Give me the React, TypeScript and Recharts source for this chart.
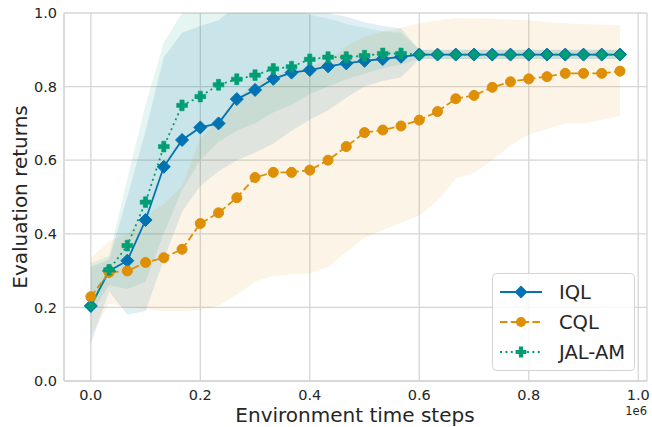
import React from 'react';
import { ComposedChart, Line, Area, XAxis, YAxis, CartesianGrid, Label } from 'recharts';

const steps = [0, 33333, 66667, 100000, 133333, 166667, 200000, 233333, 266667, 300000, 333333, 366667, 400000, 433333, 466667, 500000, 533333, 566667, 600000, 633333, 666667, 700000, 733333, 766667, 800000, 833333, 866667, 900000, 933333, 966667];

const iqlMean = [0.204, 0.299, 0.327, 0.4375, 0.582, 0.655, 0.689, 0.7, 0.766, 0.791, 0.821, 0.838, 0.845, 0.855, 0.863, 0.87, 0.875, 0.881, 0.887, 0.887, 0.887, 0.887, 0.887, 0.887, 0.887, 0.887, 0.887, 0.887, 0.887, 0.887];
const iqlLow = [0.1, 0.243, 0.18, 0.19, 0.33, 0.46, 0.53, 0.57, 0.6, 0.62, 0.645, 0.68, 0.71, 0.735, 0.77, 0.8, 0.815, 0.825, 0.875, 0.875, 0.875, 0.875, 0.875, 0.875, 0.875, 0.875, 0.875, 0.875, 0.875, 0.875];
const iqlHigh = [0.31, 0.33, 0.5, 0.68, 0.88, 0.946, 0.965, 0.98, 1.02, 1.04, 1.05, 1.04, 1.02, 1.0, 0.99, 0.975, 0.965, 0.958, 0.9, 0.9, 0.9, 0.9, 0.9, 0.9, 0.9, 0.9, 0.9, 0.9, 0.9, 0.9];

const cqlMean = [0.229, 0.295, 0.299, 0.322, 0.335, 0.358, 0.428, 0.457, 0.498, 0.553, 0.567, 0.567, 0.573, 0.6, 0.637, 0.675, 0.682, 0.693, 0.709, 0.732, 0.767, 0.776, 0.798, 0.813, 0.821, 0.827, 0.836, 0.836, 0.836, 0.842];
const cqlLow = [0.125, 0.21, 0.2, 0.195, 0.19, 0.19, 0.193, 0.205, 0.235, 0.27, 0.285, 0.29, 0.293, 0.31, 0.35, 0.39, 0.41, 0.43, 0.45, 0.49, 0.55, 0.565, 0.6, 0.64, 0.67, 0.685, 0.7, 0.7, 0.71, 0.72];
const cqlHigh = [0.334, 0.38, 0.4, 0.45, 0.48, 0.53, 0.66, 0.71, 0.77, 0.81, 0.83, 0.845, 0.855, 0.87, 0.91, 0.936, 0.95, 0.96, 0.972, 0.98, 0.986, 0.986, 0.985, 0.982, 0.98, 0.975, 0.972, 0.97, 0.968, 0.967];

const jalMean = [0.204, 0.302, 0.368, 0.486, 0.637, 0.749, 0.773, 0.805, 0.82, 0.831, 0.848, 0.854, 0.874, 0.88, 0.88, 0.884, 0.89, 0.89, 0.887, 0.887, 0.887, 0.887, 0.887, 0.887, 0.887, 0.887, 0.887, 0.887, 0.887, 0.887];
const jalLow = [0.18, 0.26, 0.25, 0.27, 0.4, 0.52, 0.6, 0.65, 0.68, 0.7, 0.73, 0.75, 0.78, 0.8, 0.82, 0.835, 0.85, 0.86, 0.875, 0.875, 0.875, 0.875, 0.875, 0.875, 0.875, 0.875, 0.875, 0.875, 0.875, 0.875];
const jalHigh = [0.32, 0.34, 0.55, 0.75, 0.92, 1.0, 1.05, 1.08, 1.08, 1.06, 1.04, 1.02, 0.995, 0.985, 0.97, 0.96, 0.95, 0.946, 0.9, 0.9, 0.9, 0.9, 0.9, 0.9, 0.9, 0.9, 0.9, 0.9, 0.9, 0.9];

const xTicks = [0, 200000, 400000, 600000, 800000, 1000000];
const yTicks = [0, 0.2, 0.4, 0.6, 0.8, 1.0];
const seriesNames = ['IQL', 'CQL', 'JAL-AM'];

const BLUE = '#0173b2';
const ORANGE = '#de8f05';
const GREEN = '#029e73';
const TEXT = '#262626';
const GRID = '#d6d6d6';
const FONT = 'DejaVu Sans, sans-serif';

const data = steps.map((s, i) => ({
  step: s,
  iql: iqlMean[i],
  cql: cqlMean[i],
  jal: jalMean[i],
  iqlBand: [iqlLow[i], iqlHigh[i]],
  cqlBand: [cqlLow[i], cqlHigh[i]],
  jalBand: [jalLow[i], jalHigh[i]],
}));

const diamondPath = (cx: number, cy: number, r: number) =>
  `M${cx},${cy - r}L${cx + r},${cy}L${cx},${cy + r}L${cx - r},${cy}Z`;

const plusPath = (cx: number, cy: number, a: number, w: number) =>
  `M${cx - w},${cy - a}H${cx + w}V${cy - w}H${cx + a}V${cy + w}H${cx + w}V${cy + a}H${cx - w}V${cy + w}H${cx - a}V${cy - w}H${cx - w}Z`;

const IqlDot = (p: any) => (
  <path key={`iql-${p.index}`} d={diamondPath(p.cx, p.cy, 6.5)} fill={BLUE} stroke={BLUE} strokeWidth={1} />
);
const CqlDot = (p: any) => (
  <circle key={`cql-${p.index}`} cx={p.cx} cy={p.cy} r={5} fill={ORANGE} stroke={ORANGE} strokeWidth={1} />
);
const JalDot = (p: any) => {
  if (p.index === 0 || p.index >= 18) {
    return <path key={`jal-${p.index}`} d={diamondPath(p.cx, p.cy, 5.3)} fill={GREEN} stroke="none" />;
  }
  return <path key={`jal-${p.index}`} d={plusPath(p.cx, p.cy, 5.4, 2.1)} fill={GREEN} stroke={GREEN} strokeWidth={0.6} />;
};

const Legendbox = () => {
  const rows = [
    { name: seriesNames[0], color: BLUE, dash: undefined as string | undefined, kind: 'd' },
    { name: seriesNames[1], color: ORANGE, dash: '7.5 3.3', kind: 'o' },
    { name: seriesNames[2], color: GREEN, dash: '2 3.4', kind: 'p' },
  ];
  return (
    <svg width={144} height={99} style={{ position: 'absolute', left: 492, top: 273 }}>
      <rect x={0.5} y={0.5} width={142} height={97} rx={4} fill="#ffffff" fillOpacity={0.8} stroke="#d4d4d4" strokeWidth={1} />
      {rows.map((r, i) => {
        const cy = 19 + i * 30;
        return (
          <g key={r.name}>
            <line x1={8} x2={50} y1={cy} y2={cy} stroke={r.color} strokeWidth={1.8} strokeDasharray={r.dash} />
            {r.kind === 'd' && <path d={diamondPath(29, cy, 6.5)} fill={r.color} />}
            {r.kind === 'o' && <circle cx={29} cy={cy} r={5} fill={r.color} />}
            {r.kind === 'p' && <path d={plusPath(29, cy, 5.4, 2.1)} fill={r.color} />}
            <text x={67} y={cy} dy="0.36em" fontSize={19.5} fontFamily={FONT} fill={TEXT}>{r.name}</text>
          </g>
        );
      })}
    </svg>
  );
};

export default function App() {
  return (
    <div style={{ position: 'absolute', left: 0, top: 0, width: 652, height: 427, background: '#fff' }}>
      <style>{'body{margin:0}'}</style>
      <ComposedChart width={652} height={427} data={data} margin={{ top: 13, right: 5, left: 0, bottom: 0 }}>
        <CartesianGrid stroke={GRID} strokeWidth={1.3} />
        <XAxis
          type="number"
          dataKey="step"
          domain={[-49000, 1016000]}
          ticks={xTicks}
          allowDataOverflow
          height={46}
          tickLine={false}
          tickSize={7}
          tickMargin={2}
          axisLine={{ stroke: GRID, strokeWidth: 1.3 }}
          tick={{ fill: TEXT, fontSize: 14.5, fontFamily: FONT }}
          tickFormatter={(v: number) => (v / 1e6).toFixed(1)}
        >
          <Label
            content={() => (
              <g>
                <text x={355} y={422} textAnchor="middle" fontSize={20} fontFamily={FONT} fill={TEXT}>Environment time steps</text>
                <text x={647} y={415} textAnchor="end" fontSize={11.5} fontFamily={FONT} fill={TEXT}>1e6</text>
              </g>
            )}
          />
        </XAxis>
        <YAxis
          type="number"
          domain={[0, 1]}
          ticks={yTicks}
          allowDataOverflow
          width={64}
          tickLine={false}
          tickSize={5}
          tickMargin={2}
          axisLine={{ stroke: GRID, strokeWidth: 1.3 }}
          tick={{ fill: TEXT, fontSize: 14.5, fontFamily: FONT }}
          tickFormatter={(v: number) => v.toFixed(1)}
        >
          <Label
            content={() => (
              <text x={27} y={197} transform="rotate(-90 27 197)" textAnchor="middle" fontSize={20} fontFamily={FONT} fill={TEXT}>Evaluation returns</text>
            )}
          />
        </YAxis>
        <Area type="linear" dataKey="iqlBand" stroke="none" fill={BLUE} fillOpacity={0.12} isAnimationActive={false} activeDot={false} dot={false} />
        <Area type="linear" dataKey="cqlBand" stroke="none" fill={ORANGE} fillOpacity={0.1} isAnimationActive={false} activeDot={false} dot={false} />
        <Area type="linear" dataKey="jalBand" stroke="none" fill={GREEN} fillOpacity={0.1} isAnimationActive={false} activeDot={false} dot={false} />
        <Line type="linear" dataKey="iql" stroke={BLUE} strokeWidth={1.8} dot={IqlDot} activeDot={false} isAnimationActive={false} />
        <Line type="linear" dataKey="cql" stroke={ORANGE} strokeWidth={1.8} strokeDasharray="7.5 3.3" dot={CqlDot} activeDot={false} isAnimationActive={false} />
        <Line type="linear" dataKey="jal" stroke={GREEN} strokeWidth={1.8} strokeDasharray="2 3.4" dot={JalDot} activeDot={false} isAnimationActive={false} />
      </ComposedChart>
      <Legendbox />
    </div>
  );
}
